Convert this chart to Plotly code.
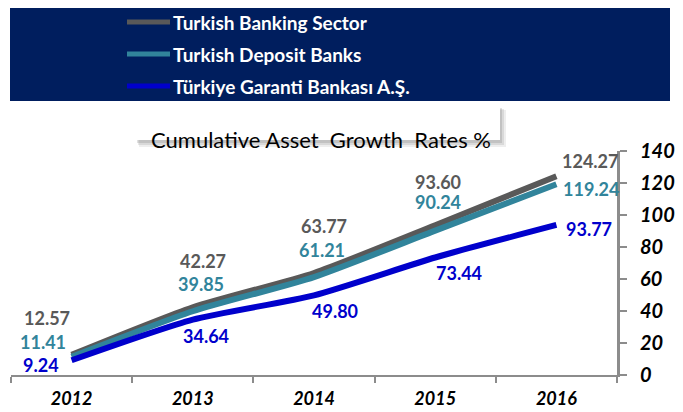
import plotly.graph_objects as go

years = ["2012", "2013", "2014", "2015", "2016"]
sector = [12.57, 42.27, 63.77, 93.60, 124.27]
deposit = [11.41, 39.85, 61.21, 90.24, 119.24]
garanti = [9.24, 34.64, 49.80, 73.44, 93.77]
names = ["Turkish Banking Sector", "Turkish Deposit Banks", "Türkiye Garanti Bankası A.Ş."]
colors = ["#595959", "#31849B", "#0000CC"]
series = [sector, deposit, garanti]
title_text = "Cumulative Asset  Growth  Rates %"

# label offsets (px) per series per year
shifts = [
    [(-25, 37), (10, 46), (10, 47), (3, 43), (34, 15)],
    [(-29, 15), (8, 27), (8, 27), (3, 29), (35, -5)],
    [(-31, -5), (13, -16), (21, -16), (24, -15), (33, -4)],
]

FONT = "Lato"
W, H = 683, 412
pl, pr, pt, pb = 11, 66, 151, 37
pw, ph = W - pl - pr, H - pt - pb
def px(x): return (x - pl) / pw
def py(y): return (H - pb - y) / ph

fig = go.Figure()
for name, col, vals in zip(names, colors, series):
    fig.add_trace(go.Scatter(x=years, y=vals, name=name, mode="lines", showlegend=False,
                             hoverinfo="skip",
                             line=dict(color=col, width=6, shape="spline", smoothing=0.6)))

annotations = []
for vals, col, sh in zip(series, colors, shifts):
    for i, (v, (dx, dy)) in enumerate(zip(vals, sh)):
        annotations.append(dict(x=i, y=v, xref="x", yref="y", text=f"<b>{v:.2f}</b>",
                                showarrow=False, xshift=dx, yshift=dy, borderpad=0,
                                font=dict(family=FONT, size=18, color=col)))
annotations.append(dict(x=px(321), y=py(124), xref="paper", yref="paper", text=title_text,
                        showarrow=False, font=dict(family=FONT, size=22, color="#000")))

shapes = [
    dict(type="rect", xref="paper", yref="paper", x0=px(10), x1=px(670), y0=py(101), y1=py(8),
         fillcolor="#001E5E", line=dict(width=0), layer="below"),
]
# soft shadow under the title box
for (dx0, dx1, dy0, dy1, op) in [(2, 6, 2, 7, 0.10), (1, 4, 1, 5, 0.14), (0, 2, 0, 3, 0.18)]:
    shapes.append(dict(type="rect", xref="paper", yref="paper", x0=px(137 + dx0), x1=px(500 + dx1),
                       y0=py(140 + dy1), y1=py(108 + dy0),
                       fillcolor=f"rgba(90,90,90,{op})", line=dict(width=0), layer="below"))
shapes.append(dict(type="rect", xref="paper", yref="paper", x0=px(137), x1=px(500), y0=py(140), y1=py(108),
                   fillcolor="white", line=dict(width=0), layer="below"))
# legend (manual, to match full-width navy banner)
for k, (name, col) in enumerate(zip(names, colors)):
    yc = 22 + 32 * k
    shapes.append(dict(type="line", xref="paper", yref="paper", x0=px(127), x1=px(170),
                       y0=py(yc), y1=py(yc), line=dict(color=col, width=5)))
    annotations.append(dict(x=px(171), y=py(yc), xref="paper", yref="paper", text=f"<b>{name}</b>",
                            showarrow=False, xanchor="left", yanchor="middle",
                            font=dict(family=FONT, size=19, color="white")))

fig.update_layout(
    width=W, height=H,
    margin=dict(l=pl, r=pr, t=pt, b=pb, autoexpand=False),
    paper_bgcolor="white", plot_bgcolor="white",
    showlegend=False,
    xaxis=dict(type="category", tickson="boundaries", ticks="outside", ticklen=6, tickwidth=2,
               tickcolor="#8c8c8c", showline=True, linecolor="#8c8c8c", linewidth=2,
               showgrid=False, range=[-0.5, 4.5], automargin=False, ticklabelstandoff=6,
               tickfont=dict(family=FONT, size=18, color="black", weight="bold", style="italic")),
    yaxis=dict(side="right", range=[0, 140], dtick=20, ticks="outside", ticklen=7, tickwidth=2,
               tickcolor="#8c8c8c", showline=True, linecolor="#8c8c8c", linewidth=3,
               showgrid=False, zeroline=False, automargin=False, ticklabelstandoff=9,
               tickfont=dict(family=FONT, size=20, color="black", weight="bold", style="italic")),
    annotations=annotations,
    shapes=shapes,
)
fig.write_html("out.html", config={"displayModeBar": False},
               post_script="document.body.style.margin='0';")
